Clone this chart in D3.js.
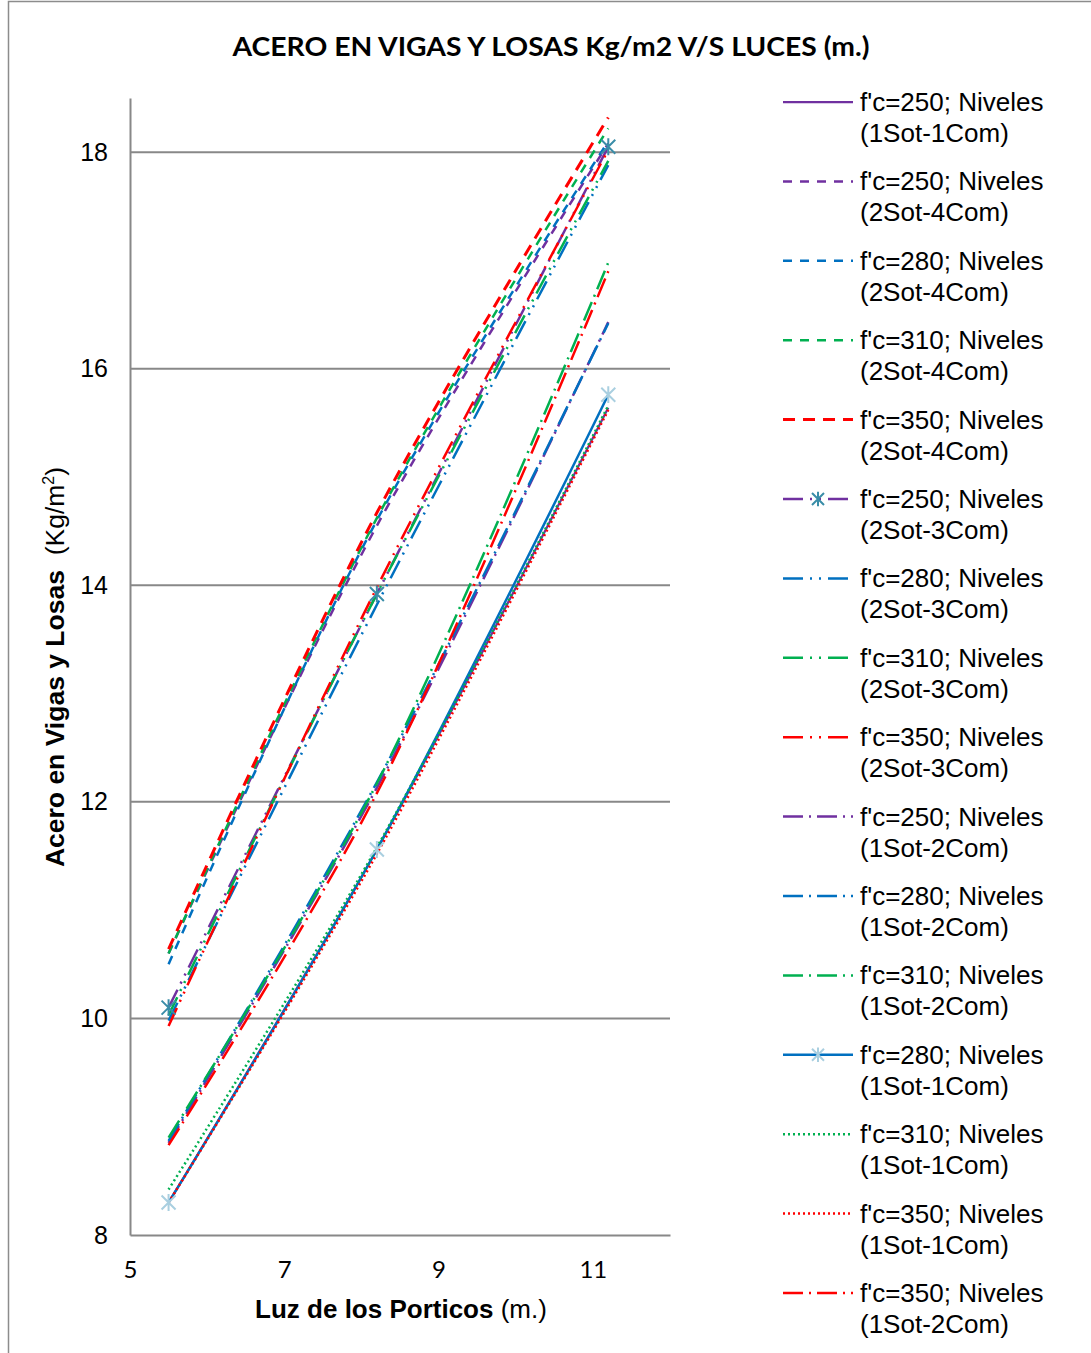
<!DOCTYPE html>
<html><head><meta charset="utf-8">
<script src="https://cdn.jsdelivr.net/npm/d3@7/dist/d3.min.js"></script>
<style>body{margin:0;background:#fff;}svg{display:block;}</style>
</head><body>
<svg id="c" width="1091" height="1353"></svg>
<script>
const xValues = [5.5, 8.2, 11.2];
const xTicks = [5, 7, 9, 11];
const yTicks = [8, 10, 12, 14, 16, 18];
const seriesLabels = [
  ["f'c=250; Niveles", "(1Sot-1Com)"],
  ["f'c=250; Niveles", "(2Sot-4Com)"],
  ["f'c=280; Niveles", "(2Sot-4Com)"],
  ["f'c=310; Niveles", "(2Sot-4Com)"],
  ["f'c=350; Niveles", "(2Sot-4Com)"],
  ["f'c=250; Niveles", "(2Sot-3Com)"],
  ["f'c=280; Niveles", "(2Sot-3Com)"],
  ["f'c=310; Niveles", "(2Sot-3Com)"],
  ["f'c=350; Niveles", "(2Sot-3Com)"],
  ["f'c=250; Niveles", "(1Sot-2Com)"],
  ["f'c=280; Niveles", "(1Sot-2Com)"],
  ["f'c=310; Niveles", "(1Sot-2Com)"],
  ["f'c=280; Niveles", "(1Sot-1Com)"],
  ["f'c=310; Niveles", "(1Sot-1Com)"],
  ["f'c=350; Niveles", "(1Sot-1Com)"],
  ["f'c=350; Niveles", "(1Sot-2Com)"]
];
const s250_1S1C = [8.30, 11.56, 15.64];
const s250_2S4C = [10.60, 14.55, 18.08];
const s280_2S4C = [10.50, 14.60, 18.10];
const s310_2S4C = [10.60, 14.62, 18.22];
const s350_2S4C = [10.64, 14.67, 18.32];
const s250_2S3C = [10.10, 13.92, 18.05];
const s280_2S3C = [9.98, 13.82, 17.88];
const s310_2S3C = [10.03, 13.92, 17.92];
const s350_2S3C = [9.93, 13.98, 18.02];
const s250_1S2C = [8.85, 12.13, 16.43];
const s280_1S2C = [8.87, 12.18, 16.42];
const s310_1S2C = [8.90, 12.17, 16.98];
const s280_1S1C = [8.30, 11.56, 15.76];
const s310_1S1C = [8.42, 11.58, 15.66];
const s350_1S1C = [8.30, 11.52, 15.62];
const s350_1S2C = [8.83, 12.08, 16.90];
const seriesValues = [s250_1S1C, s250_2S4C, s280_2S4C, s310_2S4C, s350_2S4C,
  s250_2S3C, s280_2S3C, s310_2S3C, s350_2S3C, s250_1S2C, s280_1S2C, s310_1S2C,
  s280_1S1C, s310_1S1C, s350_1S1C, s350_1S2C];

const PURPLE = "#7030A0", BLUE = "#0070C0", GREEN = "#00B050", RED = "#FF0000";
const DASH = "9,8", RDASH = "12,8", LDDD = "20,7,2,7,2,7", LDD = "20,6,2,6", DOT = "2,3";
const styles = [
  {c: PURPLE, d: null, w: 2.25},
  {c: PURPLE, d: DASH, w: 2.5},
  {c: BLUE, d: DASH, w: 2.5},
  {c: GREEN, d: DASH, w: 2.5},
  {c: RED, d: RDASH, w: 3},
  {c: PURPLE, d: LDDD, w: 2.5, m: "#3A8DA8"},
  {c: BLUE, d: LDDD, w: 2.5},
  {c: GREEN, d: LDDD, w: 2.5},
  {c: RED, d: LDDD, w: 2.5},
  {c: PURPLE, d: LDD, w: 2.5},
  {c: BLUE, d: LDD, w: 2.5},
  {c: GREEN, d: LDD, w: 2.5},
  {c: BLUE, d: null, w: 2.5, m: "#A9CFE0"},
  {c: GREEN, d: DOT, w: 2.5},
  {c: RED, d: DOT, w: 2.5},
  {c: RED, d: LDD, w: 2.5}
];

const svg = d3.select("#c");
svg.append("rect").attr("x", 8.5).attr("y", 1.5).attr("width", 1100).attr("height", 1400)
  .attr("fill", "#fff").attr("stroke", "#8c8c8c").attr("stroke-width", 1.5);

const x = d3.scaleLinear().domain([5, 12]).range([130, 670]);
const y = d3.scaleLinear().domain([8, 18.5]).range([1235, 98]);

// gridlines
svg.append("g").selectAll("line").data(yTicks.filter(v => v > 8)).join("line")
  .attr("x1", x(5)).attr("x2", x(12)).attr("y1", d => y(d)).attr("y2", d => y(d))
  .attr("stroke", "#888").attr("stroke-width", 2);

// axes
const yAxis = d3.axisLeft(y).tickValues(yTicks).tickSize(0).tickPadding(22).tickFormat(d3.format("d"));
const gy = svg.append("g").attr("transform", `translate(${x(5)},0)`).call(yAxis);
gy.select(".domain").attr("stroke", "#888").attr("stroke-width", 2);
gy.selectAll("text").attr("font-family", "'Liberation Sans', Arial, sans-serif").attr("font-size", 25).attr("fill", "#000");

const xAxis = d3.axisBottom(x).tickValues(xTicks).tickSize(0).tickPadding(26).tickFormat(d3.format("d"));
const gx = svg.append("g").attr("transform", `translate(0,${y(8)})`).call(xAxis);
gx.select(".domain").attr("stroke", "#888").attr("stroke-width", 2);
gx.selectAll("text").attr("font-family", "Lato, 'Liberation Sans', sans-serif").attr("font-size", 24).attr("fill", "#000");

// lines
const line = d3.line().x((d, i) => x(xValues[i])).y(d => y(d)).curve(d3.curveCatmullRom.alpha(0.5));
const gl = svg.append("g");
seriesValues.forEach((vals, k) => {
  const st = styles[k];
  gl.append("path").attr("d", line(vals)).attr("fill", "none").attr("stroke", st.c)
    .attr("stroke-width", st.w).attr("stroke-dasharray", st.d);
});
function star(g, cx, cy, r, col) {
  const p = `M${cx - r},${cy - r}L${cx + r},${cy + r}M${cx - r},${cy + r}L${cx + r},${cy - r}M${cx},${cy - r * 1.2}L${cx},${cy + r * 1.2}`;
  g.append("path").attr("d", p).attr("stroke", col).attr("stroke-width", 2).attr("fill", "none");
}
seriesValues.forEach((vals, k) => {
  const st = styles[k];
  if (!st.m) return;
  vals.forEach((v, i) => star(gl, x(xValues[i]), y(v), 7, st.m));
});

// title
svg.append("text").attr("x", 551).attr("y", 56).attr("text-anchor", "middle")
  .attr("font-family", "Lato, 'Liberation Sans', sans-serif").attr("font-weight", "bold")
  .attr("font-size", 26).attr("textLength", 637).attr("lengthAdjust", "spacingAndGlyphs")
  .text("ACERO EN VIGAS Y LOSAS Kg/m2 V/S LUCES (m.)");

// x title
const xt = svg.append("text").attr("x", 401).attr("y", 1318).attr("text-anchor", "middle")
  .attr("font-family", "'Liberation Sans', Arial, sans-serif").attr("font-size", 26);
xt.append("tspan").attr("font-weight", "bold").text("Luz de los Porticos");
xt.append("tspan").text(" (m.)");

// y title
const yt = svg.append("text").attr("transform", "translate(64,667) rotate(-90)").attr("text-anchor", "middle")
  .attr("font-family", "'Liberation Sans', Arial, sans-serif").attr("font-size", 26.5);
yt.append("tspan").attr("font-weight", "bold").text("Acero en Vigas y Losas");
yt.append("tspan").text("\u00a0 (Kg/m");
yt.append("tspan").attr("font-size", 16).attr("dy", -10).text("2");
yt.append("tspan").attr("dy", 10).text(")");

// legend
const lg = svg.append("g");
seriesLabels.forEach((lab, k) => {
  const st = styles[k];
  const cy = 102 + k * 79.4;
  lg.append("line").attr("x1", 783).attr("x2", 853).attr("y1", cy).attr("y2", cy)
    .attr("stroke", st.c).attr("stroke-width", st.w).attr("stroke-dasharray", st.d);
  if (st.m) star(lg, 818, cy, 6, st.m);
  const t = lg.append("text").attr("x", 860).attr("y", cy + 9)
    .attr("font-family", "'Liberation Sans', Arial, sans-serif").attr("font-size", 26).attr("fill", "#000");
  t.append("tspan").attr("x", 860).text(lab[0]);
  t.append("tspan").attr("x", 860).attr("dy", 31).text(lab[1]);
});
</script>
</body></html>
